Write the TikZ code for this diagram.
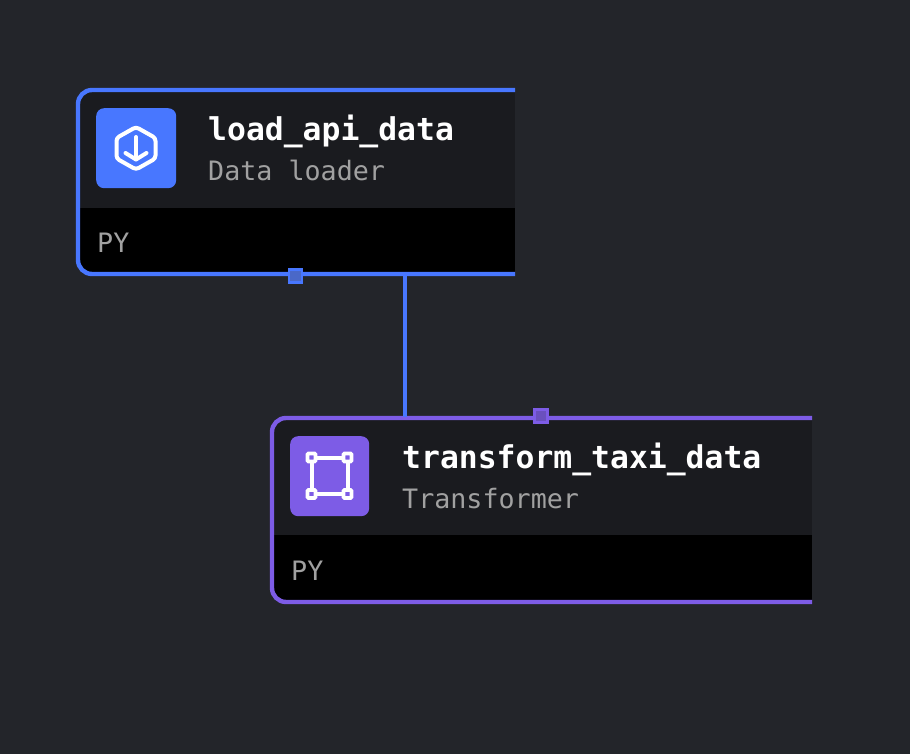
\documentclass[tikz,border=0pt]{standalone}
\usepackage{fontspec}
\setmonofont{DejaVu Sans Mono}
\definecolor{bgc}{HTML}{23252A}
\definecolor{headc}{HTML}{1A1B1F}
\definecolor{blockc}{HTML}{000000}
\definecolor{bluec}{HTML}{4877FF}
\definecolor{purplec}{HTML}{7D5CE6}
\definecolor{portb}{HTML}{4A68C8}
\definecolor{portp}{HTML}{6A50BE}
\definecolor{grayt}{HTML}{A1A1A1}
\tikzset{
  titletext/.style={anchor=base west,inner sep=0pt,text=white,font=\ttfamily\bfseries\fontsize{31.4}{36}\selectfont},
  subtext/.style={anchor=base west,inner sep=0pt,text=grayt,font=\ttfamily\fontsize{26.7}{32}\selectfont},
  iconbox/.style={rounded corners=8pt,minimum width=80pt,minimum height=80pt,inner sep=0pt,anchor=north west},
  glyph/.style={draw=white,line width=4pt,line cap=round,line join=round},
  portnode/.style={minimum width=13pt,minimum height=13pt,inner sep=0pt,line width=2.4pt},
  edge/.style={line width=4pt}
}
\begin{document}
\begin{tikzpicture}[x=1pt,y=-1pt]
\useasboundingbox (0,0) rectangle (910,754);
\fill[bgc] (0,0) rectangle (910,754);

% first block
\begin{scope}
  \clip[rounded corners=14pt] (78,90) rectangle (560,274);
  \fill[headc] (78,90) rectangle (515,208);
  \fill[blockc] (78,208) rectangle (515,274);
\end{scope}
\draw[bluec,line width=4.4pt,rounded corners=14pt] (515,90) -- (78,90) -- (78,274) -- (515,274);

% second block
\begin{scope}
  \clip[rounded corners=14pt] (272,418) rectangle (860,602);
  \fill[headc] (272,418) rectangle (812,535);
  \fill[blockc] (272,535) rectangle (812,602);
\end{scope}
\draw[purplec,line width=4.4pt,rounded corners=14pt] (812,418) -- (272,418) -- (272,602) -- (812,602);

% connector
\coordinate (loadout) at (405,275);
\coordinate (transin) at (405,417);
\draw[bluec,edge] (loadout) -- (transin);

% ports
\node[portnode,draw=bluec,fill=portb] (loadport) at (295.5,276) {};
\node[portnode,draw=purplec,fill=portp] (transport) at (541,416) {};

% first block contents
\node[iconbox,fill=bluec] (loadicon) at (96,108) {};
\draw[glyph,rounded corners=3pt] (136,127) -- (155.5,138) -- (155.5,158.5) -- (136,169.5) -- (116.5,158.5) -- (116.5,138) -- cycle;
\draw[glyph] (136,137) -- (136,159.5);
\draw[glyph] (125.5,153) -- (136,159.5) -- (146.5,153);
\node[titletext] (loadtitle) at (208,141) {load\_api\_data};
\node[subtext] (loadsub) at (208,181) {Data loader};
\node[subtext] (loadpy) at (97,252) {PY};

% second block contents
\node[iconbox,fill=purplec,minimum width=79pt] (transicon) at (290,436) {};
\draw[glyph,line cap=butt] (311.5,457.5) rectangle (347.5,494);
\foreach \px/\py in {311.5/457.5,347.5/457.5,311.5/494,347.5/494}{
  \draw[draw=white,line width=3.6pt,fill=purplec,rounded corners=1pt] (\px-4,\py-4) rectangle (\px+4,\py+4);
}
\node[titletext] (transtitle) at (402,468.5) {transform\_taxi\_data};
\node[subtext] (transsub) at (402,508.5) {Transformer};
\node[subtext] (transpy) at (291,580) {PY};
\end{tikzpicture}
\end{document}
